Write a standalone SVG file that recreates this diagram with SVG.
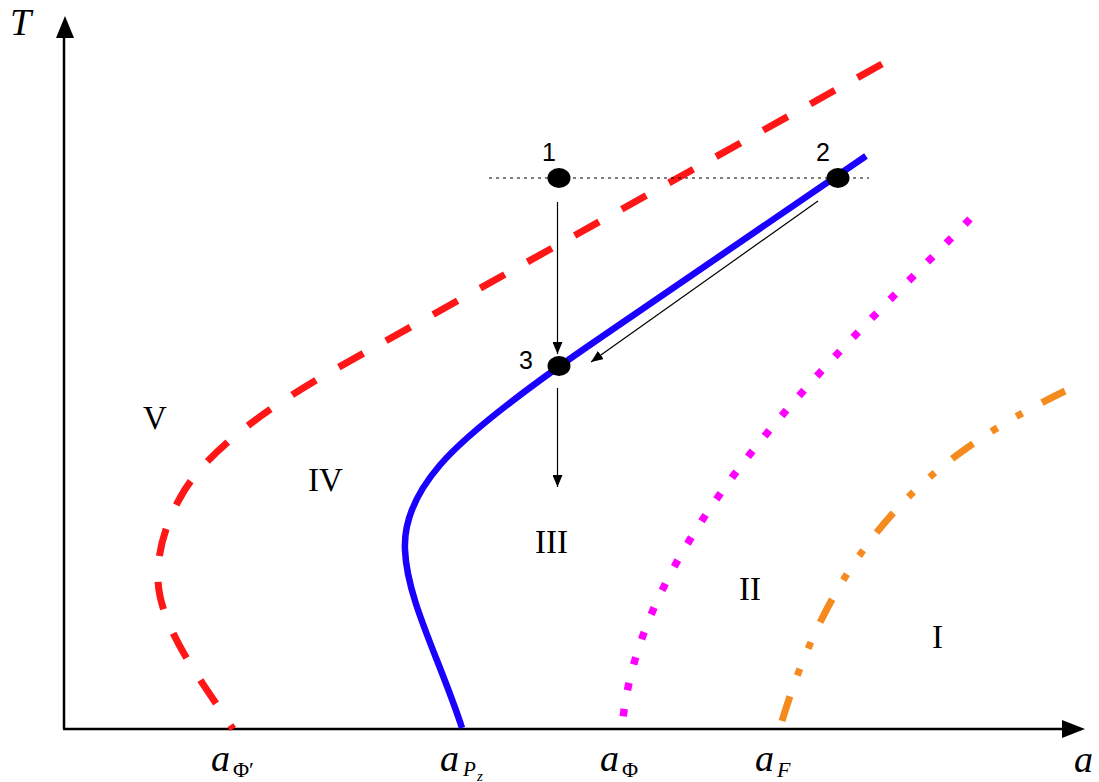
<svg xmlns="http://www.w3.org/2000/svg" width="1099" height="782" viewBox="0 0 1099 782">
<style>
.axis{stroke:#000;stroke-width:2.5;fill:none}
.curve{fill:none;stroke-linecap:butt}
.roman{font-family:"Liberation Serif",serif;font-size:33px;fill:#000}
.it{font-family:"Liberation Serif",serif;font-style:italic;fill:#000}
.up{font-family:"Liberation Serif",serif;fill:#000}
.num{font-family:"Liberation Sans",sans-serif;font-size:25px;fill:#000}
.arr{stroke:#000;stroke-width:1.2;fill:none}
.pt{fill:#000}
</style>
<defs>
<marker id="ah" viewBox="0 0 12 10" refX="12" refY="5" markerWidth="12" markerHeight="10" markerUnits="userSpaceOnUse" orient="auto">
<path d="M0,0 L12,5 L0,10 z" fill="#000"/>
</marker>
</defs>
<rect width="1099" height="782" fill="#fff"/>
<g id="axes">
<line class="axis" x1="64" y1="729" x2="64" y2="34"/>
<polygon points="65,16 56,38 74,38" fill="#000"/>
<line class="axis" x1="63" y1="729" x2="1066" y2="729"/>
<polygon points="1085,729 1062,720 1062,738" fill="#000"/>
<text class="it" x="10" y="35" font-size="38">T</text>
<text class="it" x="1074" y="772" font-size="38">a</text>
</g>
<g id="curves">
<path id="curve-red" class="curve" stroke="#ff1616" stroke-width="7" stroke-dasharray="28 26" d="M882,64 L330,372 C250,418 200,460 180,498 C162,530 157,560 158,580 C160,630 205,685 233,729"/>
<path id="curve-blue" class="curve" stroke="#1a00ff" stroke-width="6.5" d="M866,156 L600,338 C540,379 470,430 440,465 C410,500 404,530 405,550 C407,600 440,660 462,728"/>
<path id="curve-magenta" class="curve" stroke="#ff00ff" stroke-width="7.5" stroke-dasharray="7.5 19" d="M970,219 C872,320 705,470 645,630 Q626,680 622,729"/>
<path id="curve-orange" class="curve" stroke="#f58a1f" stroke-width="7" stroke-dasharray="26 22 7 22 7 22" d="M1065,391 C955,445 840,520 780,728"/>
</g>
<g id="connectors">
<line x1="489" y1="178" x2="869" y2="178" stroke="#000" stroke-width="1" stroke-dasharray="3 4"/>
<line class="arr" x1="557.5" y1="202" x2="557.5" y2="354" marker-end="url(#ah)"/>
<line class="arr" x1="818" y1="201" x2="591" y2="362" marker-end="url(#ah)"/>
<line class="arr" x1="557.5" y1="388" x2="557.5" y2="487" marker-end="url(#ah)"/>
</g>
<g id="point-1"><ellipse class="pt" cx="559" cy="178" rx="11.5" ry="10"/><text class="num" x="542" y="161">1</text></g>
<g id="point-2"><ellipse class="pt" cx="838" cy="178" rx="11.5" ry="10"/><text class="num" x="816" y="161">2</text></g>
<g id="point-3"><ellipse class="pt" cx="559" cy="366" rx="11.5" ry="10"/><text class="num" x="519" y="369">3</text></g>
<g id="region-V"><text class="roman" x="143" y="429">V</text></g>
<g id="region-IV"><text class="roman" x="308" y="491">IV</text></g>
<g id="region-III"><text class="roman" x="535" y="553">III</text></g>
<g id="region-II"><text class="roman" x="739" y="600">II</text></g>
<g id="region-I"><text class="roman" x="932" y="648">I</text></g>
<g id="label-aPhiPrime"><text class="it" x="211" y="771" font-size="38">a</text><text class="up" x="233" y="777" font-size="22">Φ′</text></g>
<g id="label-aPz"><text class="it" x="440" y="771" font-size="38">a</text><text class="it" x="463" y="776" font-size="21">P</text><text class="it" x="477" y="781" font-size="15">z</text></g>
<g id="label-aPhi"><text class="it" x="600" y="771" font-size="38">a</text><text class="up" x="622" y="777" font-size="22">Φ</text></g>
<g id="label-aF"><text class="it" x="755" y="771" font-size="38">a</text><text class="it" x="777" y="777" font-size="22">F</text></g>
</svg>
